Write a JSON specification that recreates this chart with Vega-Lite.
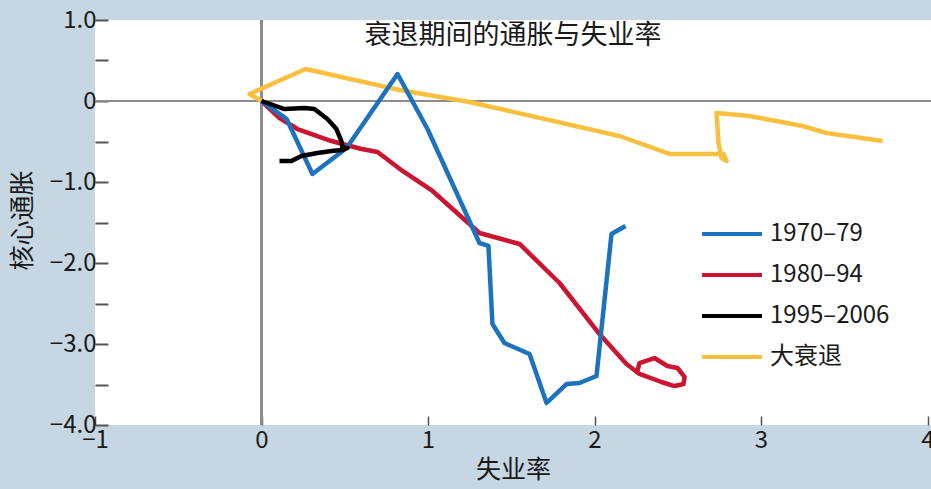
{
  "$schema": "https://vega.github.io/schema/vega-lite/v6.json",
  "width": 836,
  "height": 405,
  "autosize": {"type": "none"},
  "padding": {"left": 95, "top": 20, "right": 0, "bottom": 64},
  "background": "#c6d6e3",
  "config": {
    "view": {"fill": "white", "stroke": null},
    "font": "Noto Sans CJK SC"
  },
  "title": {
    "text": "衰退期间的通胀与失业率",
    "fontSize": 27,
    "fontWeight": "normal",
    "color": "#1a1a1a",
    "anchor": "middle",
    "baseline": "middle",
    "offset": -55
  },
  "data": {
    "values": [
      {"s": "大衰退", "i": 0, "x": 0, "y": 0},
      {"s": "大衰退", "i": 1, "x": -0.072, "y": 0.086},
      {"s": "大衰退", "i": 2, "x": 0.264, "y": 0.395},
      {"s": "大衰退", "i": 3, "x": 0.829, "y": 0.136},
      {"s": "大衰退", "i": 4, "x": 1.249, "y": -0.012},
      {"s": "大衰退", "i": 5, "x": 2.15, "y": -0.432},
      {"s": "大衰退", "i": 6, "x": 2.45, "y": -0.654},
      {"s": "大衰退", "i": 7, "x": 2.721, "y": -0.654},
      {"s": "大衰退", "i": 8, "x": 2.775, "y": -0.654},
      {"s": "大衰退", "i": 9, "x": 2.793, "y": -0.741},
      {"s": "大衰退", "i": 10, "x": 2.763, "y": -0.704},
      {"s": "大衰退", "i": 11, "x": 2.745, "y": -0.519},
      {"s": "大衰退", "i": 12, "x": 2.733, "y": -0.148},
      {"s": "大衰退", "i": 13, "x": 2.931, "y": -0.185},
      {"s": "大衰退", "i": 14, "x": 3.249, "y": -0.309},
      {"s": "大衰退", "i": 15, "x": 3.393, "y": -0.395},
      {"s": "大衰退", "i": 16, "x": 3.73, "y": -0.494},

      {"s": "1980–94", "i": 0, "x": 0, "y": 0},
      {"s": "1980–94", "i": 1, "x": 0.108, "y": -0.21},
      {"s": "1980–94", "i": 2, "x": 0.216, "y": -0.346},
      {"s": "1980–94", "i": 3, "x": 0.42, "y": -0.494},
      {"s": "1980–94", "i": 4, "x": 0.601, "y": -0.593},
      {"s": "1980–94", "i": 5, "x": 0.697, "y": -0.63},
      {"s": "1980–94", "i": 6, "x": 0.847, "y": -0.864},
      {"s": "1980–94", "i": 7, "x": 1.027, "y": -1.111},
      {"s": "1980–94", "i": 8, "x": 1.309, "y": -1.63},
      {"s": "1980–94", "i": 9, "x": 1.55, "y": -1.765},
      {"s": "1980–94", "i": 10, "x": 1.79, "y": -2.247},
      {"s": "1980–94", "i": 11, "x": 2.03, "y": -2.877},
      {"s": "1980–94", "i": 12, "x": 2.192, "y": -3.247},
      {"s": "1980–94", "i": 13, "x": 2.27, "y": -3.37},
      {"s": "1980–94", "i": 14, "x": 2.402, "y": -3.469},
      {"s": "1980–94", "i": 15, "x": 2.48, "y": -3.519},
      {"s": "1980–94", "i": 16, "x": 2.535, "y": -3.494},
      {"s": "1980–94", "i": 17, "x": 2.541, "y": -3.407},
      {"s": "1980–94", "i": 18, "x": 2.498, "y": -3.296},
      {"s": "1980–94", "i": 19, "x": 2.438, "y": -3.272},
      {"s": "1980–94", "i": 20, "x": 2.36, "y": -3.173},
      {"s": "1980–94", "i": 21, "x": 2.27, "y": -3.235},
      {"s": "1980–94", "i": 22, "x": 2.258, "y": -3.333},

      {"s": "1970–79", "i": 0, "x": 0, "y": 0},
      {"s": "1970–79", "i": 1, "x": 0.15, "y": -0.22},
      {"s": "1970–79", "i": 2, "x": 0.306, "y": -0.901},
      {"s": "1970–79", "i": 3, "x": 0.511, "y": -0.58},
      {"s": "1970–79", "i": 4, "x": 0.817, "y": 0.333},
      {"s": "1970–79", "i": 5, "x": 0.997, "y": -0.346},
      {"s": "1970–79", "i": 6, "x": 1.309, "y": -1.753},
      {"s": "1970–79", "i": 7, "x": 1.363, "y": -1.79},
      {"s": "1970–79", "i": 8, "x": 1.387, "y": -2.753},
      {"s": "1970–79", "i": 9, "x": 1.459, "y": -2.988},
      {"s": "1970–79", "i": 10, "x": 1.61, "y": -3.123},
      {"s": "1970–79", "i": 11, "x": 1.712, "y": -3.728},
      {"s": "1970–79", "i": 12, "x": 1.832, "y": -3.494},
      {"s": "1970–79", "i": 13, "x": 1.91, "y": -3.481},
      {"s": "1970–79", "i": 14, "x": 2.012, "y": -3.395},
      {"s": "1970–79", "i": 15, "x": 2.102, "y": -1.642},
      {"s": "1970–79", "i": 16, "x": 2.186, "y": -1.543},

      {"s": "1995–2006", "i": 0, "x": 0, "y": 0},
      {"s": "1995–2006", "i": 1, "x": 0.138, "y": -0.099},
      {"s": "1995–2006", "i": 2, "x": 0.258, "y": -0.086},
      {"s": "1995–2006", "i": 3, "x": 0.318, "y": -0.099},
      {"s": "1995–2006", "i": 4, "x": 0.396, "y": -0.222},
      {"s": "1995–2006", "i": 5, "x": 0.45, "y": -0.346},
      {"s": "1995–2006", "i": 6, "x": 0.48, "y": -0.494},
      {"s": "1995–2006", "i": 7, "x": 0.486, "y": -0.58},
      {"s": "1995–2006", "i": 8, "x": 0.517, "y": -0.58},
      {"s": "1995–2006", "i": 9, "x": 0.486, "y": -0.605},
      {"s": "1995–2006", "i": 10, "x": 0.42, "y": -0.617},
      {"s": "1995–2006", "i": 11, "x": 0.336, "y": -0.642},
      {"s": "1995–2006", "i": 12, "x": 0.24, "y": -0.679},
      {"s": "1995–2006", "i": 13, "x": 0.18, "y": -0.741},
      {"s": "1995–2006", "i": 14, "x": 0.108, "y": -0.741}
    ]
  },
  "layer": [
    {
      "mark": {"type": "rule", "color": "#8c8c8c", "strokeWidth": 2},
      "encoding": {"y": {"datum": 0, "type": "quantitative"}}
    },
    {
      "mark": {"type": "rule", "color": "#8c8c8c", "strokeWidth": 2},
      "encoding": {"x": {"datum": 0, "type": "quantitative"}}
    },
    {
      "mark": {"type": "line", "strokeWidth": 4.5, "strokeJoin": "round", "strokeCap": "butt"},
      "encoding": {
        "x": {
          "field": "x",
          "type": "quantitative",
          "scale": {"domain": [-1, 4.021], "nice": false, "zero": false},
          "axis": {
            "values": [-1, 0, 1, 2, 3, 4],
            "format": "d",
            "domain": false,
            "grid": false,
            "tickSize": -9,
            "tickColor": "#555555",
            "tickWidth": 1.5,
            "labelFontSize": 24,
            "labelColor": "#1a1a1a",
            "labelPadding": 12,
            "labelFlush": false,
            "title": "失业率",
            "titleFontSize": 25,
            "titleFontWeight": "normal",
            "titleColor": "#1a1a1a",
            "titleY": 44,
            "titleBaseline": "middle"
          }
        },
        "y": {
          "field": "y",
          "type": "quantitative",
          "scale": {"domain": [-4, 1], "nice": false, "zero": false},
          "axis": {
            "values": [-4, -3.75, -3.5, -3.25, -3, -2.75, -2.5, -2.25, -2, -1.75, -1.5, -1.25, -1, -0.75, -0.5, -0.25, 0, 0.25, 0.5, 0.75, 1],
            "domain": false,
            "grid": false,
            "tickSize": {"condition": {"test": "datum.value % 0.5 == 0", "value": -13}, "value": -7},
            "tickColor": "#555555",
            "tickWidth": 2,
            "labelExpr": "datum.value % 1 == 0 ? (datum.value == 0 ? '0' : format(datum.value, '.1f')) : ''",
            "labelFontSize": 24,
            "labelColor": "#1a1a1a",
            "labelPadding": 12,
            "labelFlush": false,
            "title": "核心通胀",
            "titleFontSize": 25,
            "titleFontWeight": "normal",
            "titleColor": "#1a1a1a",
            "titleX": -73,
            "titleY": 200,
            "titleAngle": -90,
            "titleAlign": "center",
            "titleBaseline": "middle"
          }
        },
        "order": {"field": "i", "type": "quantitative"},
        "color": {
          "field": "s",
          "type": "nominal",
          "scale": {
            "domain": ["1970–79", "1980–94", "1995–2006", "大衰退"],
            "range": ["#1d72bf", "#cc1431", "#000000", "#f9bf3f"]
          },
          "legend": {
            "orient": "none",
            "legendX": 608,
            "legendY": 185,
            "title": null,
            "padding": 0,
            "symbolType": "M-1.11,0H1.11",
            "symbolSize": 2916,
            "symbolStrokeWidth": 4,
            "labelFontSize": 24,
            "labelColor": "#1a1a1a",
            "labelOffset": 9,
            "rowPadding": 0
          }
        }
      }
    }
  ]
}
